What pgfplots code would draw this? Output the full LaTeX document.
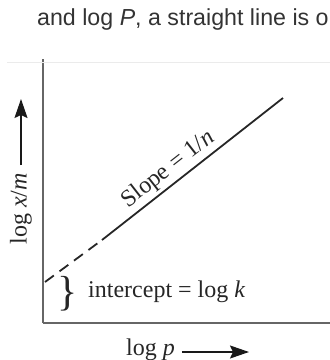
\documentclass[border=0pt]{standalone}
\usepackage{pgfplots}
\pgfplotsset{compat=1.18}
\usepackage{fontspec}
\setmainfont{Liberation Serif}
\newfontfamily\sansf{Liberation Sans}
\usetikzlibrary{arrows.meta}

\begin{document}
\begin{tikzpicture}
\begin{axis}[
  x=1pt, y=1pt,
  xmin=43, xmax=345, ymin=37, ymax=301,
  axis lines=left,
  axis line style={-, line width=2pt, draw=black!60},
  xtick=\empty, ytick=\empty,
  clip=false,
  enlargelimits=false,
]
% dashed extrapolation to the intercept
\addplot[black!85, line width=1.8pt, dash pattern=on 11pt off 7pt] coordinates {(45,78) (102,120)};
% solid isotherm line
\addplot[black!85, line width=1.8pt] coordinates {(102,120) (283,262)};

% faint frame line at top
\draw[black!8, line width=1pt] (axis cs:7,298) -- (axis cs:345,298);

% top caption text (cut at the right edge)
\node[anchor=base west, inner sep=0pt, text=black!80, font=\sansf\fontsize{23.2}{27}\selectfont]
  at (axis cs:37,335) {and log \textit{P}, a straight line is obtained};

% slope label
\node[anchor=base, rotate=38, inner sep=0pt, text=black!85, font=\fontsize{24}{28}\selectfont]
  at (axis cs:172,186) {Slope = 1/\textit{n}};

% brace and intercept label
\node[anchor=center, inner sep=0pt, text=black!85, font=\fontsize{42}{46}\selectfont]
  at (axis cs:68,66) {\}};
\node[anchor=base west, inner sep=0pt, text=black!85, font=\fontsize{24}{28}\selectfont]
  at (axis cs:88,63) {intercept = log \textit{k}};

% x label with arrow
\node[anchor=base west, inner sep=0pt, text=black!85, font=\fontsize{24}{28}\selectfont]
  at (axis cs:126,5) {log \textit{p}};
\draw[black!90, line width=1.6pt, -{Stealth[length=19pt, width=13pt, inset=3pt]}]
  (axis cs:182,8) -- (axis cs:249,8);

% y label with arrow
\node[anchor=center, rotate=90, inner sep=0pt, text=black!85, font=\fontsize{24}{28}\selectfont]
  at (axis cs:21,151) {log \textit{x}/\textit{m}};
\draw[black!90, line width=1.6pt, -{Stealth[length=19pt, width=13pt, inset=3pt]}]
  (axis cs:21,195) -- (axis cs:21,261);

\coordinate (bl) at (axis cs:0,0);
\coordinate (tr) at (axis cs:330,360);
\end{axis}
\pgfresetboundingbox
\useasboundingbox (bl) rectangle (tr);
\end{tikzpicture}
\end{document}
